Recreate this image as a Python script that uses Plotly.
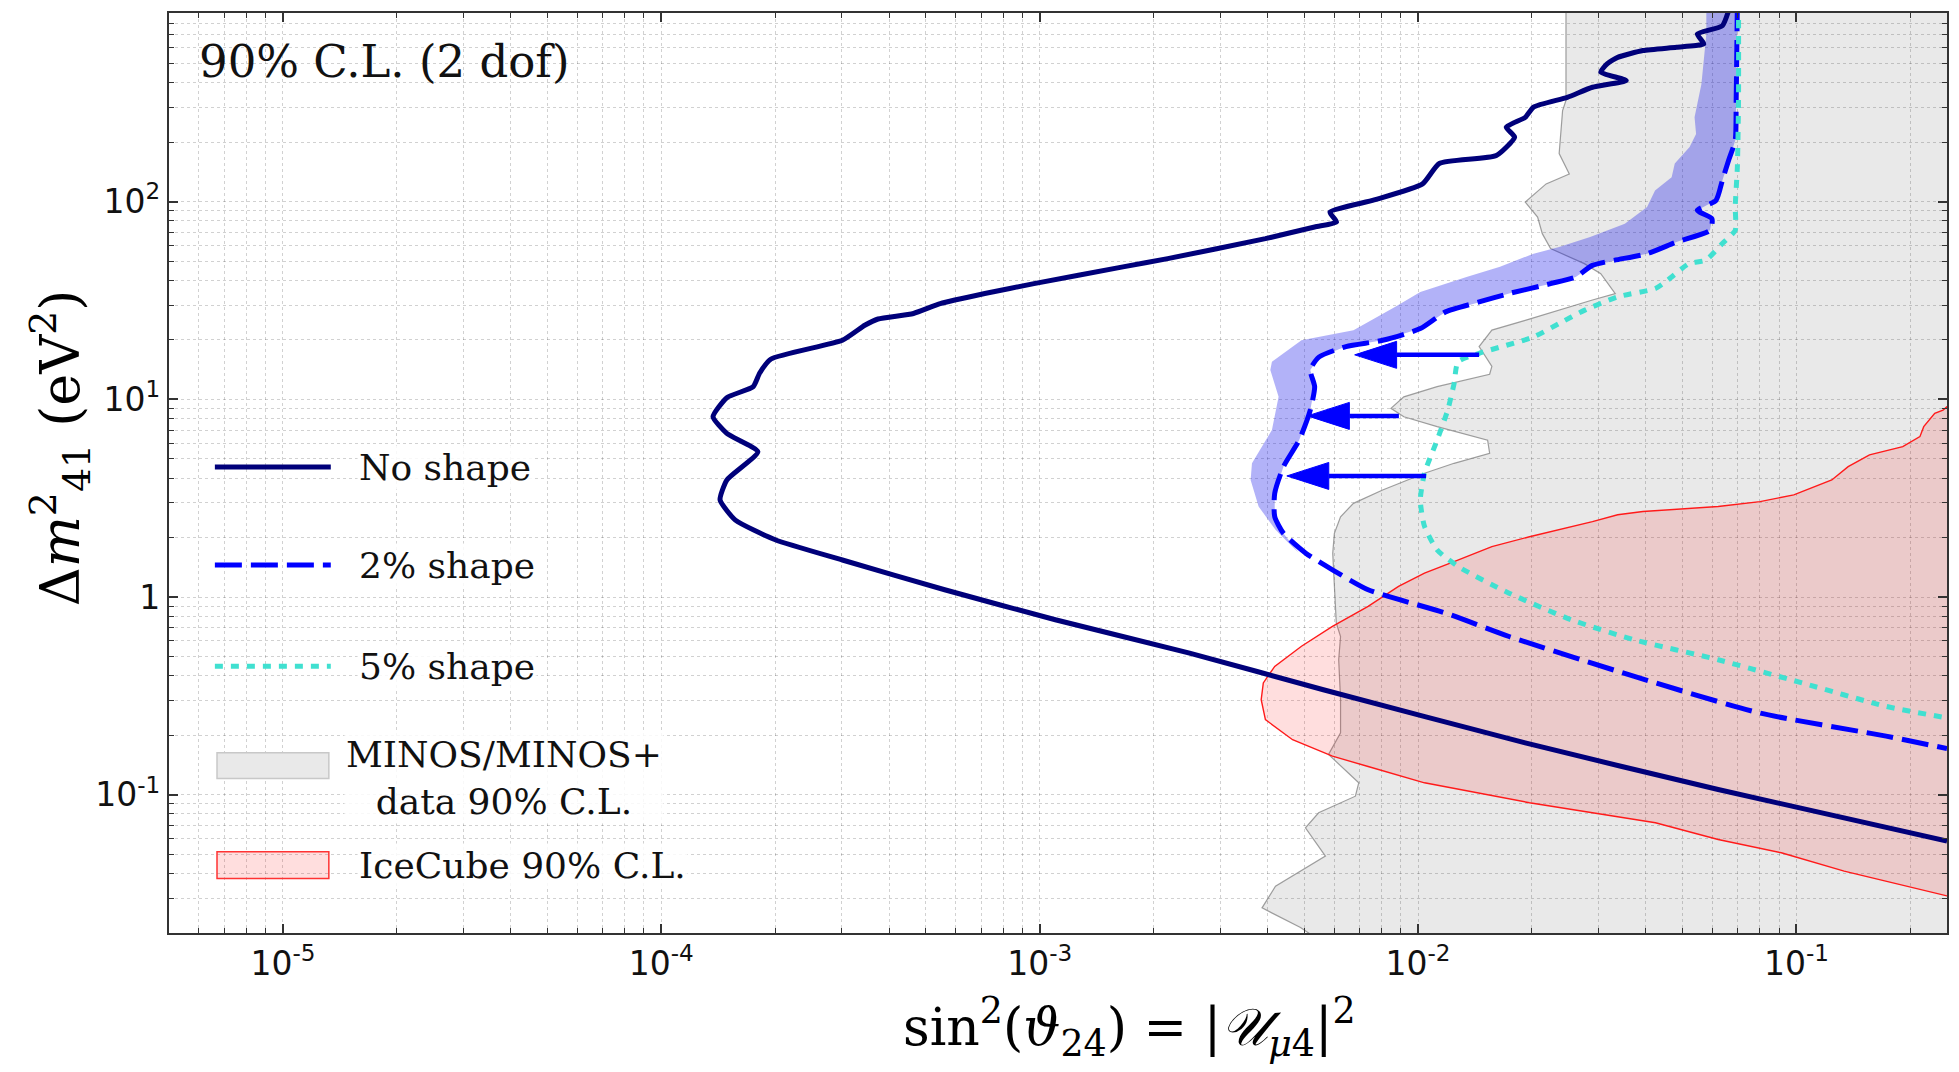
import numpy as np
import plotly.graph_objects as go

# ---------------------------------------------------------------------------
# 90% C.L. (2 dof) sensitivity contours in the (sin^2 theta_24, Delta m^2_41) plane
# sin^2(theta_24) values are dimensionless, Delta m^2_41 values in eV^2
# ---------------------------------------------------------------------------

# Rate-only analysis ("No shape")
no_shape_s2 = [0.067, 0.0637, 0.0547, 0.0569, 0.0482, 0.0393, 0.0337, 0.0316, 0.0304, 0.0355,
               0.0289, 0.0248, 0.0202, 0.0192, 0.0171, 0.0180, 0.0161, 0.01138, 0.01028, 0.00766,
               0.00585, 0.00609, 0.00533, 0.00395, 0.00218, 0.00166, 0.000966, 0.000716, 0.000546, 0.000464,
               0.000374, 0.000345, 0.000301, 0.000195, 0.000182, 0.000175, 0.000149, 0.000137, 0.000149, 0.000180,
               0.000149, 0.000143, 0.000157, 0.000200, 0.000301, 0.000561, 0.00110, 0.00249, 0.00562, 0.0192,
               0.0621, 0.25]
no_shape_dm2 = [1000, 776, 705, 628, 604, 581, 537, 498, 452, 410,
                379, 337, 301, 267, 238, 212, 171, 156, 123, 102,
                88.5, 78.9, 74.5, 65.0, 51.5, 46.8, 38.5, 34.3, 30.5, 27.2,
                25.5, 23.7, 19.9, 16.0, 13.6, 11.6, 10.2, 8.17, 6.73, 5.43,
                3.91, 3.10, 2.45, 1.95, 1.54, 1.089, 0.768, 0.521, 0.340, 0.183,
                0.1064, 0.0583]

# 2% shape uncertainty
shape2_s2 = [0.0698, 0.0693, 0.0689, 0.0662, 0.0637, 0.0613, 0.0547, 0.0598, 0.0591, 0.0482,
             0.0403, 0.0289, 0.0261, 0.0224, 0.0174, 0.0145, 0.01182, 0.01014, 0.00806, 0.00645,
             0.00548, 0.00519, 0.00533, 0.00519, 0.00485, 0.00441, 0.00418, 0.00418, 0.00441, 0.00505,
             0.00594, 0.00738, 0.01182, 0.0174, 0.0373, 0.0801, 0.1726, 0.25]
shape2_dm2 = [1000, 325, 204, 162, 128, 101.6, 90.4, 82.0, 71.6, 62.5,
              54.6, 47.6, 41.6, 38.5, 34.3, 31.1, 27.7, 22.8, 19.9, 18.5,
              16.4, 14.1, 11.6, 8.83, 6.22, 4.57, 3.35, 2.55, 2.10, 1.667,
              1.374, 1.089, 0.830, 0.632, 0.397, 0.259, 0.198, 0.1714]

# 5% shape uncertainty
shape5_s2 = [0.0703, 0.0703, 0.0698, 0.0689, 0.0689, 0.0637, 0.0576, 0.0520, 0.0457, 0.0424,
             0.0337, 0.0275, 0.0236, 0.0202, 0.0145, 0.01276, 0.01245, 0.01198, 0.01123, 0.01040,
             0.01014, 0.01040, 0.01123, 0.01276, 0.0174, 0.0254, 0.0373, 0.0621, 0.1035, 0.1726, 0.25]
shape5_dm2 = [1000, 325, 149.6, 94.0, 71.6, 61.4, 50.6, 48.6, 40.1, 36.4,
              33.0, 28.2, 24.2, 20.7, 17.1, 15.5, 12.0, 8.83, 6.22, 4.23,
              3.10, 2.28, 1.734, 1.429, 1.047, 0.768, 0.608, 0.482, 0.368, 0.280, 0.245]

# Outer edge of the band around the 2% contour
band_s2 = [0.0578, 0.0578, 0.0561, 0.0538, 0.0543, 0.0522, 0.0477, 0.0468, 0.0423, 0.0403,
           0.0352, 0.0285, 0.0236, 0.0202, 0.01647, 0.01343, 0.01014, 0.00871, 0.00675, 0.00492,
           0.00411, 0.00407, 0.00428, 0.00411, 0.00364, 0.00361, 0.00379, 0.00420, 0.00455, 0.00484]
band_dm2 = [1000, 705, 394, 267, 220, 189, 156, 133, 114, 94,
            77.4, 66.2, 59.0, 54.6, 46.8, 41.6, 34.9, 29.4, 22.4, 19.9,
            15.5, 14.1, 10.3, 7.0, 4.75, 3.91, 2.87, 2.19, 1.875, 1.675]
BAND_MIN_DM2 = 1.7   # the band closes on the 2% contour below this mass splitting

# MINOS/MINOS+ excluded region (boundary, closed at sin^2 = 1)
minos_s2 = [0.0246, 0.0246, 0.0241, 0.0236, 0.0251, 0.0218, 0.0192, 0.0207, 0.0213, 0.0224,
            0.0275, 0.0304, 0.0332, 0.0289, 0.0192, 0.01567, 0.0145, 0.01567, 0.01546, 0.01123,
            0.00917, 0.00848, 0.00917, 0.01123, 0.01527, 0.01546, 0.01245, 0.01040, 0.00806, 0.00675,
            0.00624, 0.00601, 0.00595, 0.00601, 0.00608, 0.00624, 0.00617, 0.00624, 0.00624, 0.00580,
            0.00697, 0.00683, 0.00546, 0.00504, 0.00569, 0.00420, 0.00387, 0.00489, 0.00546, 1.0, 1.0]
minos_dm2 = [1000, 325, 289, 175, 138, 123, 99.6, 83.6, 68.9, 57.9,
             48.6, 43.2, 34.3, 31.8, 25.1, 22.4, 18.5, 14.7, 13.4, 11.6,
             10.3, 9.01, 8.17, 7.28, 6.22, 5.34, 4.75, 4.23, 3.48, 2.98,
             2.55, 2.10, 1.667, 1.178, 0.740, 0.632, 0.482, 0.303, 0.206, 0.160,
             0.115, 0.0984, 0.0811, 0.0681, 0.0490, 0.0345, 0.0268, 0.0213, 0.0185, 0.0185, 1000]

# IceCube 90% C.L. allowed region (closed at sin^2 = 1)
ice_s2 = [1.0, 0.25, 0.244, 0.232, 0.217, 0.212, 0.191, 0.156, 0.137, 0.124,
          0.0984, 0.0801, 0.0621, 0.0393, 0.0337, 0.0289, 0.0197, 0.01567, 0.01245, 0.01040,
          0.00888, 0.00738, 0.00594, 0.00492, 0.00418, 0.00390, 0.00385, 0.00395, 0.00466, 0.00594,
          0.00738, 0.01040, 0.0197, 0.0289, 0.0424, 0.0621, 0.0912, 0.1337, 0.1726, 0.25, 1.0]
ice_dm2 = [9.5, 9.18, 8.83, 8.50, 7.28, 6.48, 5.77, 5.24, 4.57, 3.91,
           3.29, 3.04, 2.87, 2.71, 2.61, 2.41, 2.02, 1.80, 1.513, 1.322,
           1.132, 0.898, 0.711, 0.564, 0.446, 0.368, 0.303, 0.240, 0.190, 0.157,
           0.139, 0.115, 0.0912, 0.0811, 0.0722, 0.0594, 0.0509, 0.0411, 0.0366, 0.0308, 0.02]

# Arrows from the 5% to the 2% contour
arrow_tail_s2 = [0.0145, 0.0089, 0.0105]
arrow_tip_s2 = [0.0068, 0.0051, 0.0045]
arrow_dm2 = [16.8, 8.25, 4.1]

# Axis ticks
x_major = [1e-5, 1e-4, 1e-3, 1e-2, 1e-1]
x_labels = ["10<sup>-5</sup>", "10<sup>-4</sup>", "10<sup>-3</sup>", "10<sup>-2</sup>", "10<sup>-1</sup>"]
y_major = [0.1, 1, 10, 100]
y_labels = ["10<sup>-1</sup>", "1", "10<sup>1</sup>", "10<sup>2</sup>"]

# ---------------------------------------------------------------------------
W, H = 1959, 1072
MARGIN = dict(l=169, r=10, t=13, b=139)
X_RANGE = [np.log10(5e-6), np.log10(0.25)]
Y_RANGE = [np.log10(0.02), np.log10(900)]

NAVY = "#00007a"
BLUE = "#0000ff"
TURQ = "#40e0d0"
SERIF = "DejaVu Serif"
SANS = "DejaVu Sans"


def minor_values(lo, hi, k_lo, k_hi):
    vals = [m * 10.0 ** k for k in range(k_lo, k_hi + 1) for m in range(2, 10)]
    return [v for v in vals if lo < v < hi]


fig = go.Figure()

# MINOS/MINOS+ excluded region
fig.add_trace(go.Scatter(x=minos_s2, y=minos_dm2, mode="lines", fill="toself",
                         fillcolor="rgba(0,0,0,0.085)",
                         line=dict(color="rgba(120,120,120,0.7)", width=1.2),
                         hoverinfo="skip", showlegend=False))

# IceCube region
fig.add_trace(go.Scatter(x=ice_s2, y=ice_dm2, mode="lines", fill="toself",
                         fillcolor="rgba(255,0,0,0.13)",
                         line=dict(color="#ff1a1a", width=1.4),
                         hoverinfo="skip", showlegend=False))

# Band attached to the 2% contour
upper = [(s, d) for s, d in zip(shape2_s2, shape2_dm2) if d >= BAND_MIN_DM2]
band_x = list(band_s2) + [s for s, _ in reversed(upper)]
band_y = list(band_dm2) + [d for _, d in reversed(upper)]
fig.add_trace(go.Scatter(x=band_x, y=band_y, mode="lines", fill="toself",
                         fillcolor="rgba(20,20,235,0.33)", line=dict(width=0),
                         hoverinfo="skip", showlegend=False))

# Contours
fig.add_trace(go.Scatter(x=shape2_s2, y=shape2_dm2, mode="lines", name="2% shape",
                         line=dict(color=BLUE, width=5, dash="27px,9px", shape="spline", smoothing=0.6),
                         showlegend=False))
fig.add_trace(go.Scatter(x=shape5_s2, y=shape5_dm2, mode="lines", name="5% shape",
                         line=dict(color=TURQ, width=5, dash="8px,8px", shape="spline", smoothing=0.6),
                         showlegend=False))
fig.add_trace(go.Scatter(x=no_shape_s2, y=no_shape_dm2, mode="lines", name="No shape",
                         line=dict(color=NAVY, width=5, shape="spline", smoothing=0.5),
                         showlegend=False))

# Arrows: shaft plus a filled head sized in screen pixels
plot_w = W - MARGIN["l"] - MARGIN["r"]
plot_h = H - MARGIN["t"] - MARGIN["b"]
dec_per_px_x = (X_RANGE[1] - X_RANGE[0]) / plot_w
dec_per_px_y = (Y_RANGE[1] - Y_RANGE[0]) / plot_h
HEAD_LEN_PX, HEAD_HALF_PX = 42, 13.5
for tail, tip, dm in zip(arrow_tail_s2, arrow_tip_s2, arrow_dm2):
    base = tip * 10 ** (HEAD_LEN_PX * dec_per_px_x)
    up = dm * 10 ** (HEAD_HALF_PX * dec_per_px_y)
    dn = dm / 10 ** (HEAD_HALF_PX * dec_per_px_y)
    fig.add_trace(go.Scatter(x=[tail, base], y=[dm, dm], mode="lines",
                             line=dict(color=BLUE, width=4.5), hoverinfo="skip", showlegend=False))
    fig.add_trace(go.Scatter(x=[tip, base, base, tip], y=[dm, up, dn, dm], mode="lines",
                             fill="toself", fillcolor=BLUE, line=dict(color=BLUE, width=1),
                             hoverinfo="skip", showlegend=False))

GRID = "rgba(0,0,0,0.18)"
AX = "#333333"
axis_common = dict(type="log", tickmode="array", ticks="inside", ticklen=9, tickwidth=1.5,
                   tickcolor=AX, showline=True, linecolor=AX, linewidth=2.2, mirror="ticks",
                   showgrid=True, gridcolor=GRID, griddash="dot", gridwidth=1, zeroline=False,
                   tickfont=dict(family=SANS, size=33, color="#111"))

fig.update_layout(
    width=W, height=H, margin=MARGIN,
    paper_bgcolor="white", plot_bgcolor="white",
    xaxis=dict(range=X_RANGE, tickvals=x_major, ticktext=x_labels,
               minor=dict(tickmode="array", tickvals=minor_values(5e-6, 0.25, -6, -1),
                          ticks="inside", ticklen=5, tickcolor=AX, tickwidth=1,
                          showgrid=True, gridcolor=GRID, griddash="dot", gridwidth=1),
               **axis_common),
    yaxis=dict(range=Y_RANGE, tickvals=y_major, ticktext=y_labels,
               minor=dict(tickmode="array", tickvals=minor_values(0.02, 900, -2, 2),
                          ticks="inside", ticklen=5, tickcolor=AX, tickwidth=1,
                          showgrid=True, gridcolor=GRID, griddash="dot", gridwidth=1),
               **axis_common),
    showlegend=False,
)

annotations = []
shapes = []

# Axis titles
annotations.append(dict(xref="paper", yref="paper", x=0.540, y=-0.102, showarrow=False,
                        text="sin<sup>2</sup>(<i>ϑ</i><sub>24</sub>) = |<i>𝒰</i><sub><i>μ</i>4</sub>|<sup>2</sup>",
                        font=dict(family=SERIF, size=52, color="black"),
                        xanchor="center", yanchor="middle"))
annotations.append(dict(xref="paper", yref="paper", x=-0.0612, y=0.527, showarrow=False,
                        text="Δ<i>m</i><sup>2</sup><sub>41</sub> (eV<sup>2</sup>)", textangle=-90,
                        font=dict(family=SERIF, size=54, color="black"),
                        xanchor="center", yanchor="middle"))

# Corner label
annotations.append(dict(xref="paper", yref="paper", x=0.0157, y=0.947, showarrow=False,
                        text="90% C.L. (2 dof)", font=dict(family=SERIF, size=45, color="#111"),
                        xanchor="left", yanchor="middle"))

# Legend (drawn in axes-paper space)
LEG_X0, LEG_X1, LEG_TX = 0.0258, 0.0910, 0.106
leg_font = dict(family=SERIF, size=36, color="#111")
leg_bg = "rgba(255,255,255,0.85)"
line_entries = [("No shape", 0.5065, dict(color=NAVY, width=5)),
                ("2% shape", 0.400, dict(color=BLUE, width=5, dash="27px,9px")),
                ("5% shape", 0.290, dict(color=TURQ, width=5, dash="8px,8px"))]
for label, yy, ln in line_entries:
    shapes.append(dict(type="line", xref="paper", yref="paper", x0=LEG_X0, x1=LEG_X1, y0=yy, y1=yy, line=ln))
    annotations.append(dict(xref="paper", yref="paper", x=LEG_TX, y=yy, text=label, showarrow=False,
                            font=leg_font, xanchor="left", yanchor="middle", bgcolor=leg_bg))

shapes.append(dict(type="rect", xref="paper", yref="paper", x0=0.027, x1=0.0899, y0=0.168, y1=0.196,
                   fillcolor="#e9e9e9", line=dict(color="#c8c8c8", width=1.5)))
annotations.append(dict(xref="paper", yref="paper", x=0.1886, y=0.169,
                        text="MINOS/MINOS+<br>data 90% C.L.", showarrow=False, align="center",
                        font=leg_font, xanchor="center", yanchor="middle", bgcolor=leg_bg))
shapes.append(dict(type="rect", xref="paper", yref="paper", x0=0.027, x1=0.0899, y0=0.0593, y1=0.0883,
                   fillcolor="rgba(255,0,0,0.13)", line=dict(color="#ff3333", width=1.5)))
annotations.append(dict(xref="paper", yref="paper", x=LEG_TX, y=0.0739, text="IceCube 90% C.L.",
                        showarrow=False, font=leg_font, xanchor="left", yanchor="middle", bgcolor=leg_bg))

fig.update_layout(annotations=annotations, shapes=shapes)

fig.write_html("out.html")
